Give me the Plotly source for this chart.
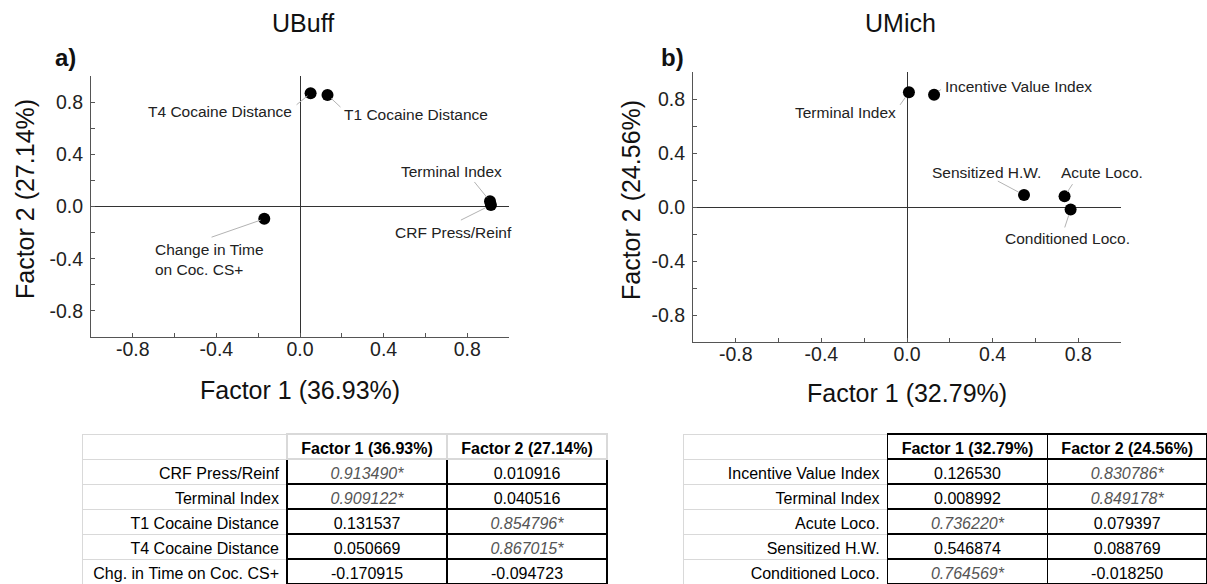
import plotly.graph_objects as go

# ---------------- data ----------------
# Panel a) UBuff
ubuff_vars = ["CRF Press/Reinf", "Terminal Index", "T1 Cocaine Distance",
              "T4 Cocaine Distance", "Chg. in Time on Coc. CS+"]
ubuff_plot_labels = ["CRF Press/Reinf", "Terminal Index", "T1 Cocaine Distance",
                     "T4 Cocaine Distance", "Change in Time<br>on Coc. CS+"]
ubuff_f1 = [0.913490, 0.909122, 0.131537, 0.050669, -0.170915]
ubuff_f2 = [0.010916, 0.040516, 0.854796, 0.867015, -0.094723]
ubuff_f1_sig = [True, True, False, False, False]
ubuff_f2_sig = [False, False, True, True, False]
ubuff_headers = ["Factor 1 (36.93%)", "Factor 2 (27.14%)"]

# Panel b) UMich
umich_vars = ["Incentive Value Index", "Terminal Index", "Acute Loco.",
              "Sensitized H.W.", "Conditioned Loco."]
umich_plot_labels = umich_vars
umich_f1 = [0.126530, 0.008992, 0.736220, 0.546874, 0.764569]
umich_f2 = [0.830786, 0.849178, 0.079397, 0.088769, -0.018250]
umich_f1_sig = [False, False, True, False, True]
umich_f2_sig = [True, True, False, False, False]
umich_headers = ["Factor 1 (32.79%)", "Factor 2 (24.56%)"]

tick_vals = [-1.0, -0.8, -0.6, -0.4, -0.2, 0.0, 0.2, 0.4, 0.6, 0.8, 1.0]
tick_text = ["", "-0.8", "", "-0.4", "", "0.0", "", "0.4", "", "0.8", ""]

# ---------------- label placement (pixels) ----------------
# (text dx, text dy [down +], xanchor, leader tail ax, ay, standoff)
ubuff_label_pos = [
    (-37.8, 27.4, "center", -32, 16, 6),
    (-39.0, -29.7, "center", -17.6, -21.7, 5),
    (14.4, 20.0, "left", 15, 14, 5),
    (-16.6, 17.7, "right", -16, 13, 4),
    (-111.0, 40.7, "left", -54.7, 19, 4),
]
umich_label_pos = [
    (8.9, -8.8, "left", 9, -7, 6),
    (-10.9, 20.6, "right", -10.6, 15, 6),
    (37.0, -23.3, "center", 9.6, -14.6, 5),
    (-38.0, -23.0, "center", -28.2, -15, 6),
    (-3.6, 29.5, "center", -6.7, 20.5, 6),
]

W, H = 1207, 584
FONT = "Liberation Sans, Arial, sans-serif"
NB = "\u00a0"
CLEAR = "rgba(0,0,0,0)"


def px(xp, yp):
    return xp / W, 1 - yp / H


fig = go.Figure()

fig.add_trace(go.Scatter(x=ubuff_f1, y=ubuff_f2, mode="markers",
                         marker=dict(size=12, color="black"),
                         xaxis="x", yaxis="y", showlegend=False, hoverinfo="skip"))
fig.add_trace(go.Scatter(x=umich_f1, y=umich_f2, mode="markers",
                         marker=dict(size=12, color="black"),
                         xaxis="x2", yaxis="y2", showlegend=False, hoverinfo="skip"))


def nb(s):
    return s.replace(" ", NB)


def make_tables(vars_, f1, f2, s1, s2, headers, domain_x, header_black):
    gray = "#d9d9d9"
    hdr_line = [gray, "black", "black"] if header_black else [gray, gray, gray]
    dom = dict(x=domain_x, y=[0, 1 - 434 / H])
    widths = [205, 160, 160]
    # base table: borders, labels, plain (non-significant) values
    base = go.Table(
        domain=dom, columnwidth=widths,
        header=dict(values=["", nb(headers[0]), nb(headers[1])],
                    align=["right", "center", "center"], height=25,
                    font=dict(family=FONT, size=16, color="black", weight="bold"),
                    fill_color="white",
                    line=dict(color=hdr_line, width=[1, 1.5, 1.5])),
        cells=dict(values=[[nb(v) for v in vars_],
                           ["" if s else f"{v:.6f}" for v, s in zip(f1, s1)],
                           ["" if s else f"{v:.6f}" for v, s in zip(f2, s2)]],
                   align=["right", "center", "center"], height=25,
                   font=dict(family=FONT, size=16, color="black"),
                   fill_color="white",
                   line=dict(color=[gray, "black", "black"], width=[1, 1.5, 1.5])),
    )
    # overlay table: significant loadings in italics with asterisk
    overlay = go.Table(
        domain=dom, columnwidth=widths,
        header=dict(values=["", "", ""], height=25, fill_color=CLEAR,
                    line=dict(color=CLEAR, width=0)),
        cells=dict(values=[[""] * len(vars_),
                           [f"{v:.6f}*" if s else "" for v, s in zip(f1, s1)],
                           [f"{v:.6f}*" if s else "" for v, s in zip(f2, s2)]],
                   align=["right", "center", "center"], height=25,
                   font=dict(family=FONT, size=16, color="#555555", style="italic"),
                   fill_color=CLEAR,
                   line=dict(color=CLEAR, width=0)),
    )
    return base, overlay


for t in make_tables(ubuff_vars, ubuff_f1, ubuff_f2, ubuff_f1_sig, ubuff_f2_sig,
                     ubuff_headers, [82 / W, 607 / W], False):
    fig.add_trace(t)
for t in make_tables(umich_vars, umich_f1, umich_f2, umich_f1_sig, umich_f2_sig,
                     umich_headers, [683 / W, 1.0], True):
    fig.add_trace(t)

axis_common = dict(
    range=[-1, 1], showgrid=False, zeroline=True, zerolinecolor="#333333",
    zerolinewidth=1.4, showline=True, linecolor="#555555", linewidth=1.2,
    ticks="inside", ticklen=4, tickwidth=1.2, tickcolor="#555555",
    tickmode="array", tickvals=tick_vals, ticktext=tick_text,
    tickfont=dict(family=FONT, size=19.5, color="#222222"),
    mirror=False, fixedrange=True,
)
xaxis_common = dict(axis_common, ticklabelstandoff=-6)
yaxis_common = dict(axis_common, ticklabelstandoff=3)

annotations = []


def add_labels(xs, ys, labels, pos, xr, yr):
    for x, y, lab, (dx, dy, xa, ax, ay, so) in zip(xs, ys, labels, pos):
        annotations.append(dict(x=x, y=y, xref=xr, yref=yr, text=lab, showarrow=False,
                                xanchor=xa, yanchor="middle", xshift=dx, yshift=-dy,
                                align="left" if xa == "left" else ("right" if xa == "right" else "center"),
                                font=dict(family=FONT, size=15.5, color="#222222")))
        annotations.append(dict(x=x, y=y, xref=xr, yref=yr, text=" ", showarrow=True,
                                arrowhead=0, ax=ax, ay=ay, standoff=so,
                                arrowcolor="#b3b3b3", arrowwidth=1,
                                font=dict(size=2)))


add_labels(ubuff_f1, ubuff_f2, ubuff_plot_labels, ubuff_label_pos, "x", "y")
add_labels(umich_f1, umich_f2, umich_plot_labels, umich_label_pos, "x2", "y2")


def paper_text(text, xp, yp, size, bold=False, angle=0):
    x, y = px(xp, yp)
    annotations.append(dict(x=x, y=y, xref="paper", yref="paper", text=f"<b>{text}</b>" if bold else text,
                            showarrow=False, xanchor="center", yanchor="middle", textangle=angle,
                            font=dict(family=FONT, size=size, color="#111111")))


paper_text("UBuff", 303, 23, 25)
paper_text("UMich", 900, 23, 25)
paper_text("a)", 65, 58, 24, bold=True)
paper_text("b)", 672, 57, 24, bold=True)
paper_text("Factor 1 (36.93%)", 300, 390, 25)
paper_text("Factor 1 (32.79%)", 907, 393, 25)
paper_text("Factor 2 (27.14%)", 25, 199, 25, angle=-90)
paper_text("Factor 2 (24.56%)", 631, 200, 25, angle=-90)

fig.update_layout(
    width=W, height=H, margin=dict(l=0, r=0, t=0, b=0),
    paper_bgcolor="white", plot_bgcolor="white",
    font=dict(family=FONT, color="#222222"),
    showlegend=False,
    xaxis=dict(domain=[91 / W, 509 / W], anchor="y", **xaxis_common),
    yaxis=dict(domain=[1 - 337 / H, 1 - 76 / H], anchor="x", **yaxis_common),
    xaxis2=dict(domain=[693 / W, 1121 / W], anchor="y2", **xaxis_common),
    yaxis2=dict(domain=[1 - 342 / H, 1 - 72 / H], anchor="x2", **yaxis_common),
    annotations=annotations,
)

fig.write_html(
    "out.html",
    config={"displayModeBar": False},
    post_script="document.body.style.margin='0px';document.body.style.overflow='hidden';",
)
